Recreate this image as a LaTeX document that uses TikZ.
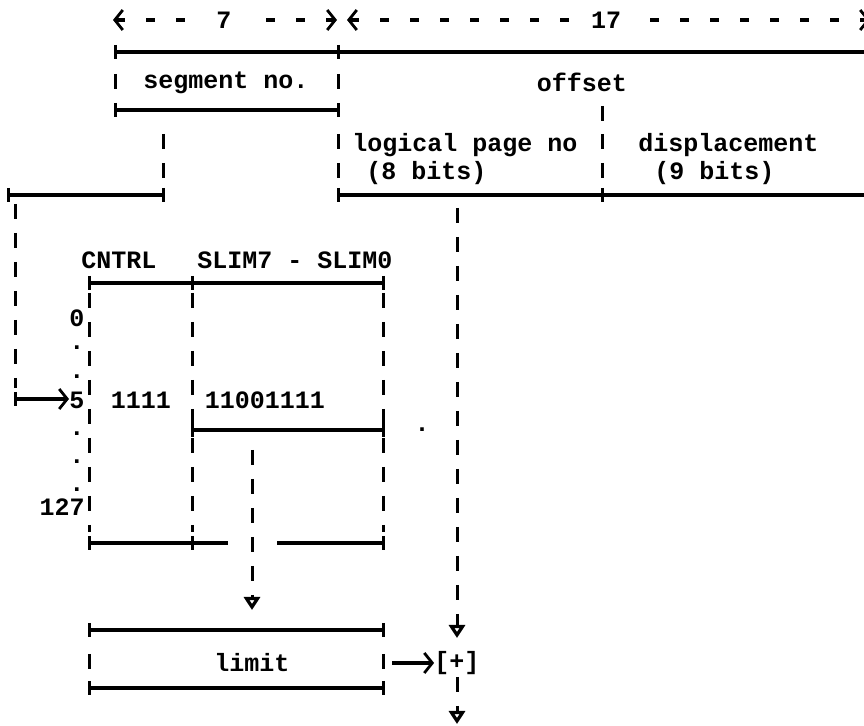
\documentclass[tikz,border=0pt]{standalone}
\usepackage{fontspec}
\setmonofont{Liberation Mono}
\usepackage{tikz}
\usetikzlibrary{arrows.meta}
\tikzstyle{rule} = [draw, line width=2pt]
\tikzstyle{bar} = [draw, line width=1.5pt, dash pattern=on 7.5pt off 7pt]
\tikzstyle{dim} = [draw, line width=1.8pt, dash pattern=on 4.5pt off 10.5pt, {Straight Barb[length=4pt,width=10pt,line width=1.4pt]}-{Straight Barb[length=4pt,width=10pt,line width=1.4pt]}]
\tikzstyle{txt} = [inner sep=0pt, font=\ttfamily\bfseries\fontsize{12.5}{14}\selectfont]
\tikzstyle{down} = [-{Triangle[open,length=6.5pt,width=8pt,line width=1.8pt]}]
\tikzstyle{right} = [draw, line width=1.8pt, -{Straight Barb[length=4pt,width=10pt,line width=1.4pt]}]

\begin{document}
\begin{tikzpicture}[x=0.5pt,y=-0.5pt]
\useasboundingbox (0,0) rectangle (864,726);


%%% %%%
% Virtual address
%%% %%%


\draw [dim] (113,20) coordinate (DIMSL) -- (337,20) coordinate (DIMSR);
\node[txt,fill=white,inner xsep=8pt] (DIMS) at (224,20) {7};
\draw [dim] (347,20) coordinate (DIMOL) -- (870,20) coordinate (DIMOR);
\node[txt,fill=white,inner xsep=8pt] (DIMO) at (606,20) {17};

\draw [rule] (115,52) coordinate (VATL) -- (864,52) coordinate (VATR);
\coordinate (VAS) at (338,52);

\node[txt] (SEGNO) at (226,83) {segment no.};
\node[txt] (OFFS) at (582,82) {offset};
\draw [rule] (115,110) coordinate (SEGBL) -- (338,110) coordinate (SEGBR);

\node[txt,anchor=west] (LPN) at (352,145) {logical page no};
\node[txt,anchor=west] (LPNB) at (366,173) {(8 bits)};
\node[txt,anchor=west] (DISP) at (638,145) {displacement};
\node[txt,anchor=west] (DISPB) at (654,173) {(9 bits)};

\draw [rule] (8,195) coordinate (SEGOL) -- (163,195) coordinate (SEGOR);
\draw [rule] (338,195) coordinate (OFFBL) -- (864,195) coordinate (OFFBR);
\coordinate (OFFBM) at (602,195);

\foreach \x/\a/\b in {115/74/92,338/74/92,602/106/128,163/134/184,338/134/184,602/134/184}
\draw [bar] (\x,\a) -- (\x,\b);


%%% %%%
% Segment table
%%% %%%


\node[txt] (CNTRL) at (119,260) {CNTRL};
\node[txt] (SLIM) at (295,260) {SLIM7 - SLIM0};
\draw [rule] (89,283) coordinate (TABTL) -- (383,283) coordinate (TABTR);
\coordinate (TABTM) at (192,283);

\foreach \i/\y in {0/318,./348,./377,5/400,./434,./462,./490}
\node[txt] at (77,\y) {\i};
\node[txt,anchor=east] (ROWN) at (85,507) {127};

\foreach \x in {89,192,383}
\draw [bar] (\x,293) -- (\x,532);

\node[txt] (CTRLV) at (141,400) {1111};
\node[txt] (SLIMV) at (265,400) {11001111};
\draw [rule] (192,430) coordinate (SLIMBL) -- (383,430) coordinate (SLIMBR);
\node[txt] (STRAY) at (422,430) {.};

\draw [rule] (89,543) coordinate (TABBL) -- (228,543);
\draw [rule] (277,543) -- (383,543) coordinate (TABBR);
\coordinate (TABBM) at (192,543);

% segment number selects the entry
\draw [bar] (15,204) -- (15,388);
\draw [right] (15,399) coordinate (SELP) -- (69,399);


%%% %%%
% Limit and adder
%%% %%%


\draw [rule] (89,630) coordinate (LIMTL) -- (383,630) coordinate (LIMTR);
\node[txt] (LIMIT) at (252,663) {limit};
\draw [rule] (89,688) coordinate (LIMBL) -- (383,688) coordinate (LIMBR);
\foreach \x in {89,383}
\draw [bar] (\x,654) -- (\x,672);

\node[txt] (ADD) at (457,663) {[+]};
\draw [right] (392,663) -- (ADD.west);

\draw [bar,down] (252,450) -- (252,610);
\draw [bar,down] (457,208) -- (457,638);
\draw [bar,down] (457,677) -- (457,724);


%%%
% Corners
%%%


\foreach \p in {VATL,VAS,SEGBL,SEGBR,SEGOL,SEGOR,OFFBL,OFFBM,TABTL,TABTM,TABTR,SLIMBL,SLIMBR,TABBL,TABBM,TABBR,LIMTL,LIMTR,LIMBL,LIMBR,SELP}
\draw [rule,line width=1.5pt] (\p) ++(0,-7) -- ++(0,14);

\end{tikzpicture}
\end{document}
